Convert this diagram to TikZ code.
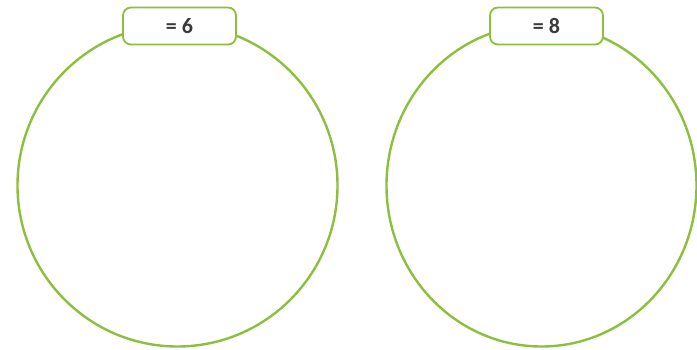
\documentclass[tikz,border=0pt]{standalone}
\usepackage{fontspec}
\setmainfont{Carlito}
\definecolor{ringgreen}{HTML}{8DBF3F}
\definecolor{labgray}{HTML}{3A3A3A}
\tikzset{
  ring/.style={draw=ringgreen, line width=2.4pt},
  tag/.style={draw=ringgreen, line width=1.8pt, fill=white, rounded corners=8pt,
    minimum width=113pt, minimum height=37pt, inner sep=0pt,
    font=\fontsize{22}{22}\selectfont\bfseries, text=labgray}
}
\begin{document}
\begin{tikzpicture}[x=1pt,y=-1pt]
\useasboundingbox (0,0) rectangle (697,350);
\draw[ring] (177.5,185.5) ellipse [x radius=160, y radius=161];
\draw[ring] (541.5,185.5) ellipse [x radius=155, y radius=161];
\node[tag] (t1) at (179.5,26) {= 6};
\node[tag] (t2) at (546.5,26) {= 8};
\end{tikzpicture}
\end{document}
